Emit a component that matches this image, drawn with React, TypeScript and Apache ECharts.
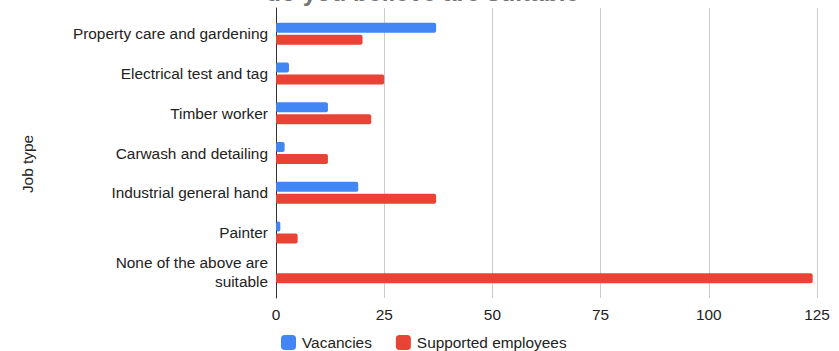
import React, { useEffect, useRef } from "react";
import * as echarts from "echarts";

const categories = [
  "Property care and gardening",
  "Electrical test and tag",
  "Timber worker",
  "Carwash and detailing",
  "Industrial general hand",
  "Painter",
  "None of the above are\nsuitable",
];
const vacancies = [37, 3, 12, 2, 19, 1, 0];
const supportedEmployees = [20, 25, 22, 12, 37, 5, 124];
const xTicks = [0, 25, 50, 75, 100, 125];
const titleText = "do you believe are suitable";
const yAxisTitle = "Job type";

export default function App() {
  const ref = useRef<HTMLDivElement>(null);
  useEffect(() => {
    document.body.style.margin = "0";
    if (!ref.current) return;
    const chart = echarts.init(ref.current, undefined, { renderer: "svg" });
    const font = "Arial, 'Liberation Sans', sans-serif";
    const fs = 15.4;
    const xMin = xTicks[0];
    const xMax = xTicks[xTicks.length - 1];
    chart.setOption({
      animation: false,
      textStyle: { fontFamily: font },
      graphic: [
        {
          type: "text",
          left: 266,
          top: -20,
          style: {
            text: titleText,
            font: `bold 24.5px ${font}`,
            fill: "#757575",
          },
        },
        {
          type: "text",
          x: 27,
          y: 164,
          rotation: Math.PI / 2,
          style: {
            text: yAxisTitle,
            font: `${fs}px ${font}`,
            fill: "#222",
            align: "center",
            verticalAlign: "middle",
          },
        },
      ],
      grid: [
        { left: 276, right: 22, top: 14, bottom: 59, containLabel: false },
        { left: 276, right: 22, top: 8, bottom: 53, containLabel: false },
      ],
      legend: {
        bottom: -4,
        left: 276,
        itemWidth: 15,
        itemHeight: 15,
        itemGap: 24,
        icon: "roundRect",
        textStyle: { fontSize: fs, color: "#222", fontFamily: font, padding: [0, 0, 0, 1] },
        data: ["Vacancies", "Supported employees"],
      },
      xAxis: [
        {
          type: "value",
          gridIndex: 0,
          min: xMin,
          max: xMax,
          interval: 25,
          axisLabel: { show: false },
          splitLine: { show: false },
          axisLine: { show: false },
          axisTick: { show: false },
        },
        {
          type: "value",
          gridIndex: 1,
          min: xMin,
          max: xMax,
          interval: 25,
          axisLabel: { fontSize: fs, color: "#222", margin: 9, fontFamily: font },
          splitLine: { lineStyle: { color: "#cccccc" } },
          axisLine: { show: false },
          axisTick: { show: false },
        },
      ],
      yAxis: [
        {
          type: "category",
          gridIndex: 0,
          data: categories,
          inverse: true,
          axisLabel: {
            fontSize: fs,
            color: "#222",
            margin: 8,
            lineHeight: 19,
            fontFamily: font,
          },
          axisLine: { show: false },
          axisTick: { show: false },
        },
        {
          type: "value",
          gridIndex: 1,
          min: 0,
          max: 1,
          axisLabel: { show: false },
          splitLine: { show: false },
          axisLine: { show: true, lineStyle: { color: "#333", width: 1 } },
          axisTick: { show: false },
        },
      ],
      series: [
        {
          name: "Vacancies",
          type: "bar",
          xAxisIndex: 0,
          yAxisIndex: 0,
          data: vacancies,
          barWidth: 10,
          barGap: "20%",
          itemStyle: { color: "#4285F4", borderRadius: 2 },
        },
        {
          name: "Supported employees",
          type: "bar",
          xAxisIndex: 0,
          yAxisIndex: 0,
          data: supportedEmployees,
          barWidth: 10,
          itemStyle: { color: "#EA4335", borderRadius: 2 },
        },
      ],
    });
    return () => chart.dispose();
  }, []);
  return <div ref={ref} style={{ width: 839, height: 351 }} />;
}
